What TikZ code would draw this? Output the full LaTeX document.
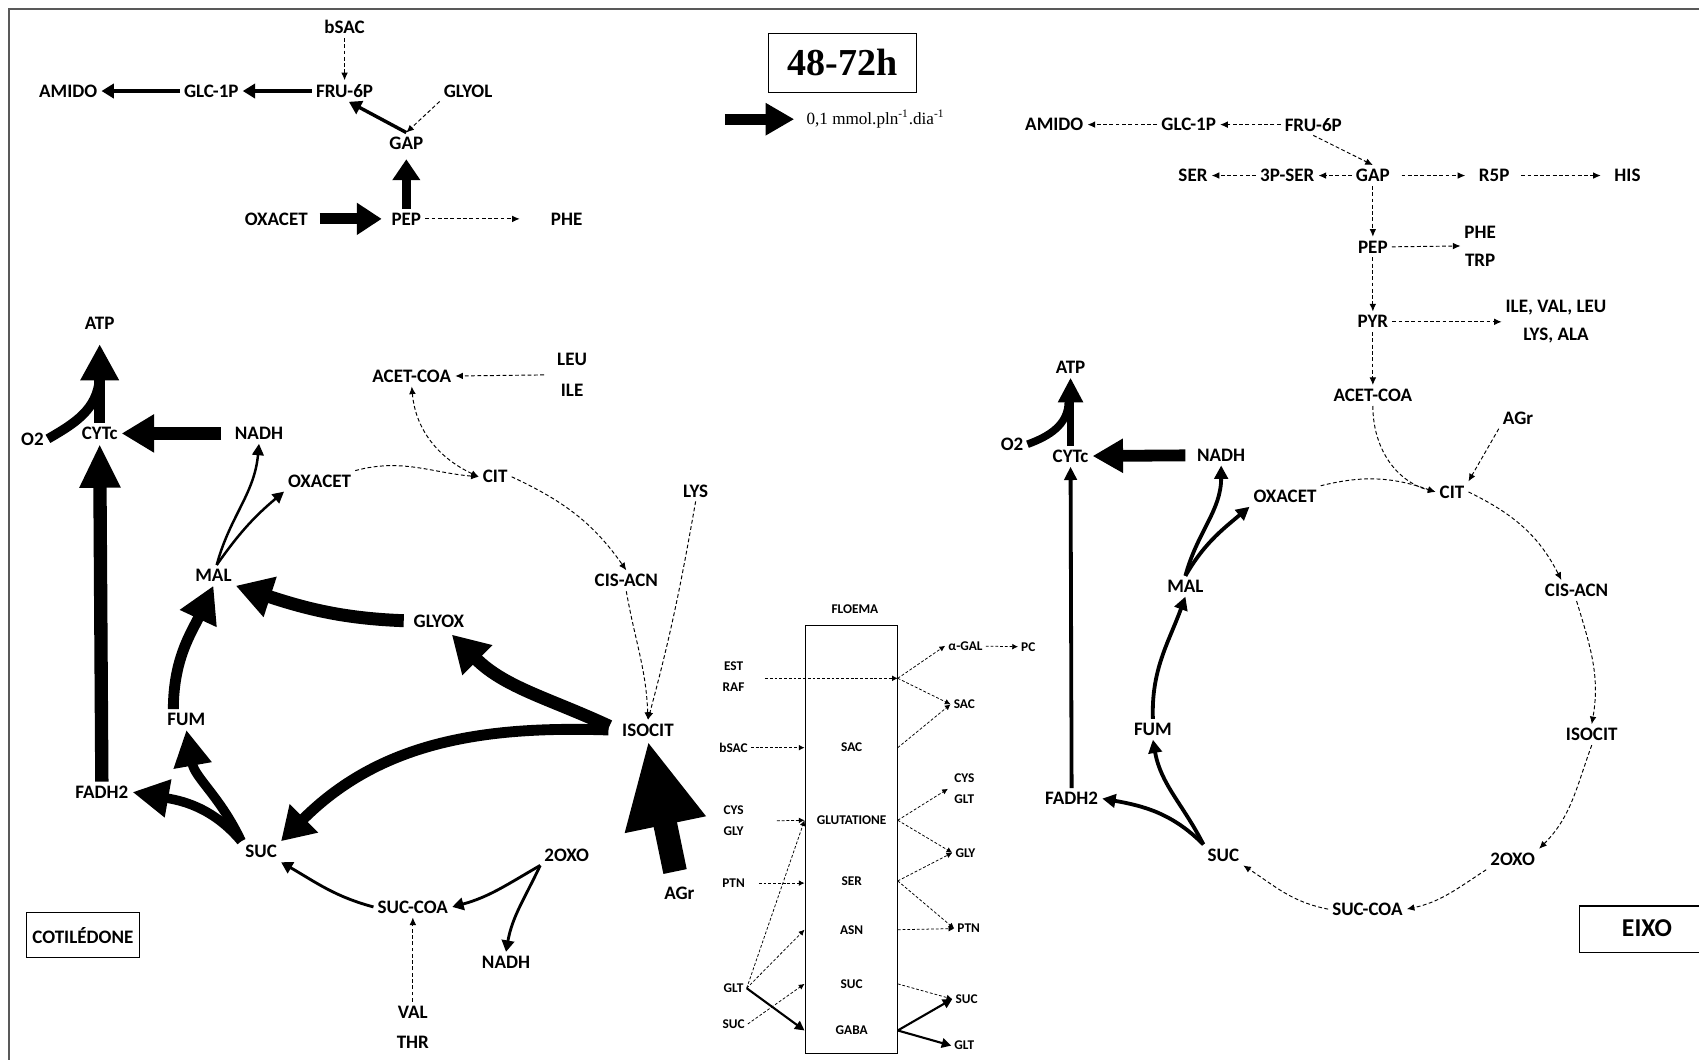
\documentclass[tikz,border=0pt]{standalone}
\usepackage{fontspec}
\setmainfont{Carlito}
\newfontfamily\timesfont{Liberation Serif}
\usetikzlibrary{arrows.meta, calc}
\tikzset{
  met/.style={font=\fontsize{10}{12}\selectfont\bfseries, inner sep=2pt},
  flm/.style={font=\fontsize{7}{8}\selectfont\bfseries, inner sep=1.5pt},
  dfl/.style={line width=0.5pt, dash pattern=on 2pt off 1.3pt, -{Latex[length=4pt,width=3.5pt]}},
  ddfl/.style={line width=0.5pt, dash pattern=on 2pt off 1.3pt, {Latex[length=4pt,width=3.5pt]}-{Latex[length=4pt,width=3.5pt]}},
  sdfl/.style={line width=0.4pt, dash pattern=on 1.5pt off 1pt, -{Latex[length=3pt,width=3pt]}},
  flx/.style n args={3}{line width=#1, -{Triangle[length=#2,width=#3]}},
  boxlbl/.style={draw, line width=0.6pt, font=\fontsize{10}{12}\selectfont\bfseries},
}
\newcommand{\dflow}[2]{\draw[dfl] (#1) -- (#2);}

\begin{document}
\begin{tikzpicture}[x=0.02cm, y=-0.02cm]
\useasboundingbox (0,0) rectangle (1568,978);
\draw[line width=0.9pt, black!65] (1568,8) -- (8,8) -- (8,978);

\node[met] (tbsac) at (318,25) {bSAC};
\node[met] (tfru) at (318,84) {FRU-6P};
\node[met] (tglc) at (195,84) {GLC-1P};
\node[met] (tamido) at (63,84) {AMIDO};
\node[met] (tglyol) at (432,84) {GLYOL};
\node[met] (tgap) at (375,132) {GAP};
\node[met] (toxa) at (255,202) {OXACET};
\node[met] (tpep) at (375,202) {PEP};
\node[met] (tphe) at (523,202) {PHE};
\dflow{tbsac}{tfru}
\draw[flx={1.8pt}{6.5pt}{7.5pt}] (tfru) -- (tglc);
\draw[flx={1.8pt}{6.5pt}{7.5pt}] (tglc) -- (tamido);
\draw[flx={1.8pt}{6.5pt}{7.5pt}] (tgap.north) -- ($(tfru.south)+(4,0)$);
\dflow{tglyol.south west}{tgap.north}
\draw[flx={4.5pt}{11pt}{14pt}, shorten >=3pt] (tpep) -- (tgap);
\draw[flx={5.7pt}{13pt}{16pt}, shorten <=4pt, shorten >=3pt] (toxa) -- (tpep);
\draw[dfl] (tpep) -- ($(tphe.west)+(-25,0)$);

\node[draw, line width=0.6pt, minimum width=2.74cm, minimum height=1.08cm,
  font=\timesfont\fontsize{20}{22}\selectfont\bfseries] (ttitle) at (777.5,58) {48-72h};
\coordinate (lega) at (669,110);
\node[anchor=west, inner sep=0pt, font=\timesfont\fontsize{9}{10}\selectfont] (legtxt) at (744,110)
  {0,1 mmol.pln\textsuperscript{-1}.dia\textsuperscript{-1}};
\draw[flx={5.7pt}{15pt}{16pt}] (lega) -- ($(legtxt.west)+(-11,0)$);

\node[met] (eamido) at (973,115) {AMIDO};
\node[met] (eglc) at (1097,115) {GLC-1P};
\node[met] (efru) at (1212,115) {FRU-6P};
\node[met] (eser) at (1101,162) {SER};
\node[met] (e3ps) at (1188,162) {3P-SER};
\node[met] (egap) at (1267,162) {GAP};
\node[met] (er5p) at (1379,162) {R5P};
\node[met] (ehis) at (1502,162) {HIS};
\node[met] (epep) at (1267,228) {PEP};
\node[met] (ephe) at (1366,214) {PHE};
\node[met] (etrp) at (1366,240) {TRP};
\node[met] (epyr) at (1267,297) {PYR};
\node[met] (eilv) at (1436,284) {ILE, VAL, LEU};
\node[met] (elys) at (1436,310) {LYS, ALA};
\node[met] (eacoa) at (1267,365) {ACET-COA};
\node[met] (eagr) at (1401,386) {AGr};
\node[met] (ecit) at (1340,454) {CIT};
\node[met] (eoxa) at (1186,458) {OXACET};
\node[met] (ecis) at (1455,545) {CIS-ACN};
\node[met] (eiso) at (1469,678) {ISOCIT};
\node[met] (eoxo) at (1396,793) {2OXO};
\node[met] (escoa) at (1262,839) {SUC-COA};
\node[met] (esuc) at (1129,789) {SUC};
\node[met] (efum) at (1064,673) {FUM};
\node[met] (emal) at (1094,541) {MAL};
\node[met] (enadh) at (1127,420) {NADH};
\node[met] (ecyt) at (988,421) {CYTc};
\node[met] (efad) at (989,737) {FADH2};
\node[met] (eo2) at (934,410) {O2};
\node[met] (eatp) at (988,339) {ATP};
\node[font=\fontsize{13.5}{15}\selectfont\bfseries] (eixo) at (1520,857) {EIXO};
\draw[line width=0.7pt] (1575,836) -- (1458,836) -- (1458,879) -- (1575,879);
\dflow{efru}{eglc}
\dflow{eglc}{eamido}
\dflow{efru.south}{egap.north}
\dflow{egap}{e3ps}
\dflow{e3ps}{eser}
\draw[dfl, shorten <=4pt, shorten >=5pt] (egap) -- (er5p);
\draw[dfl, shorten <=4pt, shorten >=5pt] (er5p) -- (ehis);
\dflow{egap}{epep}
\draw[dfl] (epep) -- ($(ephe.west)!0.5!(etrp.west)$);
\dflow{epep}{epyr}
\draw[dfl] (epyr) -- ($(eilv.west)!0.5!(elys.west)+(-8,0)$);
\dflow{epyr}{eacoa}
\draw[dfl] (eacoa.south) to[out=-90, in=165] (ecit.west);
\dflow{eagr.south west}{ecit.north east}
\draw[dfl] (eoxa.north east) to[out=14, in=161] (ecit.west);
\draw[dfl] (ecit.east) to[out=-26, in=117] ($(ecis.north)+(-14,0)$);
\draw[dfl] (ecis.south) to[out=-73, in=80] (eiso.north);
\draw[dfl] (eiso.south) to[out=-110, in=45] (eoxo.north east);
\draw[dfl] (eoxo.south west) to[out=-147, in=12] (escoa.east);
\draw[dfl] (escoa.west) to[out=169, in=-33] (esuc.south east);
\draw[flx={2pt}{7pt}{7pt}] (esuc.north west) to[out=117, in=-80] (efum.south);
\draw[flx={2pt}{7pt}{7pt}] (esuc.north west) to[out=135, in=-10] (efad.east);
\draw[flx={2pt}{7pt}{7pt}] (efum.north) to[out=92, in=-110] (emal.south);
\draw[flx={2pt}{7pt}{7pt}] (emal.north) to[out=75, in=-90] (enadh.south);
\draw[flx={2pt}{7pt}{7pt}] (emal.north) to[out=60, in=-140] (eoxa.south west);
\draw[flx={6.2pt}{16pt}{17pt}, shorten <=4pt] (enadh) -- (ecyt);
\draw[flx={2pt}{7pt}{6.5pt}] (efad.north) -- (ecyt.south);
\draw[flx={4pt}{13pt}{12.5pt}] (ecyt.north) -- (eatp.south);
\draw[line width=4pt] (eo2.east) to[out=20, in=-90] ($(eatp.south)+(-2,22)$);

\node[met] (catp) at (92,298) {ATP};
\node[met] (co2) at (30,405) {O2};
\node[met] (ccyt) at (92,400) {CYTc};
\node[met] (cnadh) at (239,400) {NADH};
\node[met] (cfad) at (94,731) {FADH2};
\node[met] (cmal) at (197,531) {MAL};
\node[met] (coxa) at (295,444) {OXACET};
\node[met] (ccit) at (457,440) {CIT};
\node[met] (cacoa) at (380,347) {ACET-COA};
\node[met] (cleu) at (528,332) {LEU};
\node[met] (cile) at (528,360) {ILE};
\node[met] (ccis) at (578,536) {CIS-ACN};
\node[met] (clys) at (642,453) {LYS};
\node[met] (ciso) at (598,674) {ISOCIT};
\node[met] (cagr) at (627,824) {AGr};
\node[met] (cglyox) at (405,573) {GLYOX};
\node[met] (csuc) at (241,786) {SUC};
\node[met] (cfum) at (172,664) {FUM};
\node[met] (cscoa) at (381,837) {SUC-COA};
\node[met] (coxo) at (523,789) {2OXO};
\node[met] (cnadhb) at (467,888) {NADH};
\node[met] (cval) at (381,934) {VAL};
\node[met] (cthr) at (381,962) {THR};
\node[boxlbl, minimum width=2.06cm, minimum height=0.84cm] (ccot) at (76.5,863) {COTILÉDONE};
\draw[flx={5.7pt}{19pt}{19pt}] (ccyt.north) -- ($(catp.south)+(0,10)$);
\draw[line width=5pt] (co2.east) to[out=30, in=-95] ($(catp.south)+(0,42)$);
\draw[flx={6.8pt}{17pt}{19pt}, shorten <=5pt] (cnadh) -- (ccyt);
\draw[flx={7pt}{23pt}{20pt}] (cfad.north) -- (ccyt.south);
\draw[flx={1.3pt}{6pt}{6pt}] ($(cmal.north)+(3,0)$) to[out=75, in=-95] (cnadh.south);
\draw[flx={1.3pt}{6pt}{6pt}] ($(cmal.north)+(3,0)$) to[out=55, in=-140] (coxa.south west);
\draw[dfl] (coxa.north east) to[out=15, in=175] (ccit.west);
\draw[ddfl] (cacoa.south) to[out=-85, in=155] (ccit.west);
\draw[dfl] ($(cleu.west)!0.5!(cile.west)+(-10,0)$) -- (cacoa.east);
\draw[dfl] (ccit.east) to[out=-25, in=125] (ccis.north);
\draw[dfl] (ccis.south) to[out=-80, in=92] (ciso.north);
\draw[dfl] (clys.south) to[out=-100, in=75] (ciso.north);
\draw[flx={12.5pt}{45pt}{40pt}] ($(cagr.north)+(-4,-10)$) -- (ciso.south);
\draw[flx={6.8pt}{19pt}{21pt}, shorten <=5pt] (ciso.west) to[out=155, in=-45] ($(cglyox.south)+(12,3)$);
\draw[flx={6.8pt}{19pt}{21pt}, shorten <=3pt] (cglyox.west) to[out=178, in=-18] (cmal.south east);
\draw[flx={5.7pt}{17pt}{20pt}, shorten <=5pt] (ciso.west) to[out=178, in=45] (csuc.north east);
\draw[flx={5.7pt}{19pt}{20pt}] ($(cfum.north)+(-12,0)$) to[out=90, in=-115] (cmal.south);
\draw[flx={5pt}{19pt}{19pt}] (csuc.north west) to[out=115, in=-80] (cfum.south);
\draw[flx={5pt}{19pt}{19pt}] (csuc.north west) to[out=130, in=-10] (cfad.east);
\draw[flx={1.5pt}{6pt}{6.5pt}] (cscoa.west) to[out=165, in=-30] (csuc.south east);
\draw[flx={1.5pt}{6pt}{6.5pt}] (coxo.south west) to[out=-150, in=15] (cscoa.east);
\draw[flx={1.5pt}{6pt}{6.5pt}] (coxo.south west) to[out=-115, in=80] (cnadhb.north);
\dflow{cval.north}{cscoa.south}

\node[flm] (ftit) at (789,562) {FLOEMA};
\node[draw, line width=0.6pt, minimum width=1.7cm, minimum height=7.9cm] (fbox) at (785.5,774.5) {};
\node[flm] (fsac) at (786,690) {SAC};
\node[flm] (fglu) at (786,757) {GLUTATIONE};
\node[flm] (fser) at (786,813) {SER};
\node[flm] (fasn) at (786,858) {ASN};
\node[flm] (fsuc) at (786,908) {SUC};
\node[flm] (fgaba) at (786,951) {GABA};
\node[flm] (fest) at (677,615) {EST};
\node[flm] (fraf) at (677,634) {RAF};
\node[flm] (fbsac) at (677,690) {bSAC};
\node[flm] (fcys) at (677,748) {CYS};
\node[flm] (fgly) at (677,767) {GLY};
\node[flm] (fptn) at (677,815) {PTN};
\node[flm] (fglt) at (677,912) {GLT};
\node[flm] (fsucl) at (677,945) {SUC};
\node[flm] (fagal) at (891,596) {α-GAL};
\node[flm] (fpc) at (949,597) {PC};
\node[flm] (fsacr) at (890,650) {SAC};
\node[flm] (fcysr) at (890,718) {CYS};
\node[flm] (fgltr) at (890,738) {GLT};
\node[flm] (fglyr) at (891,787) {GLY};
\node[flm] (fptnr) at (894,857) {PTN};
\node[flm] (fsucr) at (892,922) {SUC};
\node[flm] (fgltb) at (890,965) {GLT};
\coordinate (fer) at (706,626);
\coordinate (fsplit) at (fbox.east |- fer);
\draw[sdfl] (fer) -- (fsplit);
\draw[sdfl] (fsplit) -- (fagal.west);
\draw[sdfl] (fsplit) -- (fsacr.west);
\draw[sdfl] (fbox.east |- fsac) -- (fsacr.west);
\draw[sdfl] (fagal) -- (fpc);
\draw[sdfl] (fbsac) -- (fbox.west |- fbsac);
\draw[sdfl] ($(fcys)!0.5!(fgly)+(40,0)$) -- (fbox.west |- fglu);
\draw[sdfl] ($(fptn.east)+(10,0)$) -- (fbox.west |- fptn);
\draw[sdfl] (fglt.east) -- (fbox.west |- fglu);
\draw[sdfl] (fglt.east) -- (fbox.west |- fasn);
\draw[flx={1.1pt}{5pt}{5pt}] (fglt.east) -- (fbox.west |- fgaba);
\draw[sdfl] (fsucl.east) -- (fbox.west |- fsuc);
\draw[sdfl] (fbox.east |- fglu) -- ($(fcysr.west)!0.5!(fgltr.west)+(-3,0)$);
\draw[sdfl] (fbox.east |- fglu) -- (fglyr.west);
\draw[sdfl] (fbox.east |- fser) -- (fglyr.west);
\draw[sdfl] (fbox.east |- fser) -- (fptnr.west);
\draw[sdfl] (fbox.east |- fasn) -- (fptnr.west);
\draw[sdfl] (fbox.east |- fsuc) -- (fsucr.west);
\draw[flx={1.1pt}{5pt}{5pt}] (fbox.east |- fgaba) -- (fsucr.west);
\draw[flx={1.1pt}{5pt}{5pt}] (fbox.east |- fgaba) -- (fgltb.west);
\end{tikzpicture}
\end{document}
